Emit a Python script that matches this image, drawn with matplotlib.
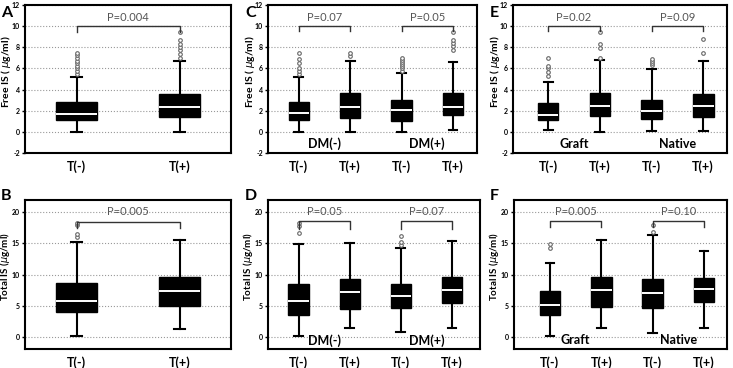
import matplotlib
matplotlib.use("Agg")
import matplotlib.pyplot as plt

plt.rcParams['font.family'] = ['Lato', 'DejaVu Sans']

# box stats per group: [whislo, q1, median, q3, whishi]
free_A = [[0.0, 1.08, 1.72, 2.80, 5.22], [0.0, 1.40, 2.36, 3.56, 6.75]]
free_A_fl = [[5.5, 5.75, 6.0, 6.25, 6.5, 6.75, 7.0, 7.25, 7.5],
             [7.0, 7.4, 7.7, 8.0, 8.35, 8.7, 9.4]]
free_C = [[0.0, 1.08, 1.75, 2.87, 5.22], [0.0, 1.30, 2.39, 3.63, 6.69],
          [0.0, 1.02, 2.04, 2.99, 5.57], [0.19, 1.59, 2.39, 3.66, 6.60]]
free_C_fl = [[5.5, 5.8, 6.0, 6.5, 6.9, 7.5], [7.13, 7.45],
             [5.8, 6.0, 6.2, 6.4, 6.6, 6.8, 7.0], [7.77, 8.1, 8.4, 8.7, 9.43]]
free_E = [[0.16, 1.10, 1.64, 2.74, 4.67], [0.0, 1.48, 2.46, 3.69, 6.78],
          [0.05, 1.17, 1.99, 3.06, 5.93], [0.05, 1.36, 2.43, 3.56, 6.72]]
free_E_fl = [[5.3, 5.7, 6.0, 6.2, 7.0], [7.0, 7.9, 8.3, 9.43],
             [6.3, 6.5, 6.7, 6.9], [7.44, 8.74]]

total_B = [[0.1, 3.91, 5.76, 8.59, 15.3], [1.3, 4.95, 7.28, 9.57, 15.5]]
total_B_fl = [[16.1, 16.5, 17.9, 18.3], []]
total_D = [[0.1, 3.40, 5.68, 8.54, 14.86], [1.35, 4.38, 7.19, 9.35, 15.1],
           [0.8, 4.54, 6.49, 8.43, 14.2], [1.46, 5.40, 7.57, 9.62, 15.46]]
total_D_fl = [[16.65, 17.8, 18.3], [], [14.7, 15.2, 16.2], []]
total_F = [[0.1, 3.53, 5.10, 7.34, 11.9], [1.36, 4.84, 7.45, 9.57, 15.6],
           [0.65, 4.57, 7.07, 9.35, 16.4], [1.41, 5.54, 7.60, 9.51, 13.86]]
total_F_fl = [[14.24, 14.95], [], [16.85, 17.9], []]

xlabels2 = ["T(-)", "T(+)"]
xlabels4 = ["T(-)", "T(+)", "T(-)", "T(+)"]
pvals_A = ["P=0.004"]
pvals_C = ["P=0.07", "P=0.05"]
pvals_E = ["P=0.02", "P=0.09"]
pvals_B = ["P=0.005"]
pvals_D = ["P=0.05", "P=0.07"]
pvals_F = ["P=0.005", "P=0.10"]
groups_DM = ["DM(-)", "DM(+)"]
groups_GN = ["Graft", "Native"]

W, H = 733, 368
fig = plt.figure(figsize=(W / 100, H / 100), dpi=100)


def make_ax(x0, y0, w, h):
    return fig.add_axes([x0 / W, 1 - (y0 + h) / H, w / W, h / H])


def draw(ax, stats, fliers, xlabels, xlim, ylim, yticks, ylabel, letter, letter_xy,
         label_x, pvals, bracket_y, tick_y, text_y, groups=None, group_y=None,
         capw=0.12, label_fs=7.5):
    n = len(stats)
    pos = list(range(1, n + 1))
    bs = []
    for s, fl in zip(stats, fliers):
        bs.append(dict(whislo=s[0], q1=s[1], med=s[2], q3=s[3], whishi=s[4], fliers=fl))
    ax.bxp(bs, positions=pos, widths=0.4, patch_artist=True, capwidths=capw,
           boxprops=dict(facecolor="black", edgecolor="black", lw=1),
           medianprops=dict(color="white", lw=1.4),
           whiskerprops=dict(color="black", lw=1.5),
           capprops=dict(color="black", lw=1.5),
           flierprops=dict(marker="o", markersize=2.6, markerfacecolor="white",
                           markeredgecolor="#666666", markeredgewidth=0.8))
    ax.set_xlim(*xlim)
    ax.set_ylim(*ylim)
    ax.set_yticks(yticks)
    ax.set_yticklabels([str(t) for t in yticks], fontsize=5, fontweight="bold")
    ax.set_xticks(pos)
    ax.set_xticklabels(xlabels, fontsize=9, fontweight="bold")
    ax.tick_params(axis="x", length=0, pad=5)
    ax.tick_params(axis="y", length=2.5, width=1, pad=1.2)
    ax.yaxis.grid(True, linestyle=":", color="#999999", lw=0.8)
    ax.set_axisbelow(True)
    for sp in ax.spines.values():
        sp.set_linewidth(1.5)
    ax.set_ylabel(ylabel, fontsize=label_fs, fontweight="bold")
    ax.yaxis.set_label_coords(label_x, 0.55)
    fig.text(letter_xy[0] / W, 1 - letter_xy[1] / H, letter, fontsize=11.5,
             fontweight="bold", va="top", ha="left")
    for i, p in enumerate(pvals):
        x1, x2 = pos[2 * i], pos[2 * i + 1]
        ax.plot([x1, x1, x2, x2], [tick_y, bracket_y, bracket_y, tick_y],
                color="#333333", lw=1)
        ax.text((x1 + x2) / 2, text_y, p, ha="center", va="center",
                fontsize=8, color="#555555")
    if groups:
        for i, g in enumerate(groups):
            ax.text((pos[2 * i] + pos[2 * i + 1]) / 2, group_y, g, ha="center",
                    va="center", fontsize=9, fontweight="bold")


free_lab = "Free IS ( $\\mu$g/ml)"
total_lab = "Total IS ($\\mu$g/ml)"
top_y, top_h = 5, 148
bot_y, bot_h = 200, 149
fy = [-2, 0, 2, 4, 6, 8, 10, 12]
ty = [0, 5, 10, 15, 20]

axA = make_ax(25, top_y, 206, top_h)
draw(axA, free_A, free_A_fl, xlabels2, (0.5, 2.5), (-2, 12), fy, free_lab, "A", (1, 6),
     -0.058, pvals_A, 10.0, 9.4, 10.85, capw=0.1)
axC = make_ax(268, top_y, 209, top_h)
draw(axC, free_C, free_C_fl, xlabels4, (0.4, 4.47), (-2, 12), fy, free_lab, "C", (245, 6),
     -0.053, pvals_C, 10.05, 9.5, 10.85, groups_DM, -1.15, capw=0.17)
axE = make_ax(513, top_y, 214, top_h)
draw(axE, free_E, free_E_fl, xlabels4, (0.32, 4.46), (-2, 12), fy, free_lab, "E", (490, 6),
     -0.051, pvals_E, 10.05, 9.5, 10.85, groups_GN, -1.15, capw=0.17)

axB = make_ax(25, bot_y, 206, bot_h)
draw(axB, total_B, total_B_fl, xlabels2, (0.5, 2.5), (-2, 22), ty, total_lab, "B", (1, 189),
     -0.062, pvals_B, 18.5, 17.5, 20.1, capw=0.1, label_fs=7)
axD = make_ax(268, bot_y, 212, bot_h)
draw(axD, total_D, total_D_fl, xlabels4, (0.4, 4.55), (-2, 22), ty, total_lab, "D", (245, 189),
     -0.062, pvals_D, 18.6, 17.4, 20.1, groups_DM, -0.6, capw=0.17, label_fs=7)
axF = make_ax(514, bot_y, 213, bot_h)
draw(axF, total_F, total_F_fl, xlabels4, (0.3, 4.45), (-2, 22), ty, total_lab, "F", (490, 189),
     -0.062, pvals_F, 18.6, 17.6, 20.1, groups_GN, -0.6, capw=0.17, label_fs=7)

fig.savefig("out.png", dpi=100)
